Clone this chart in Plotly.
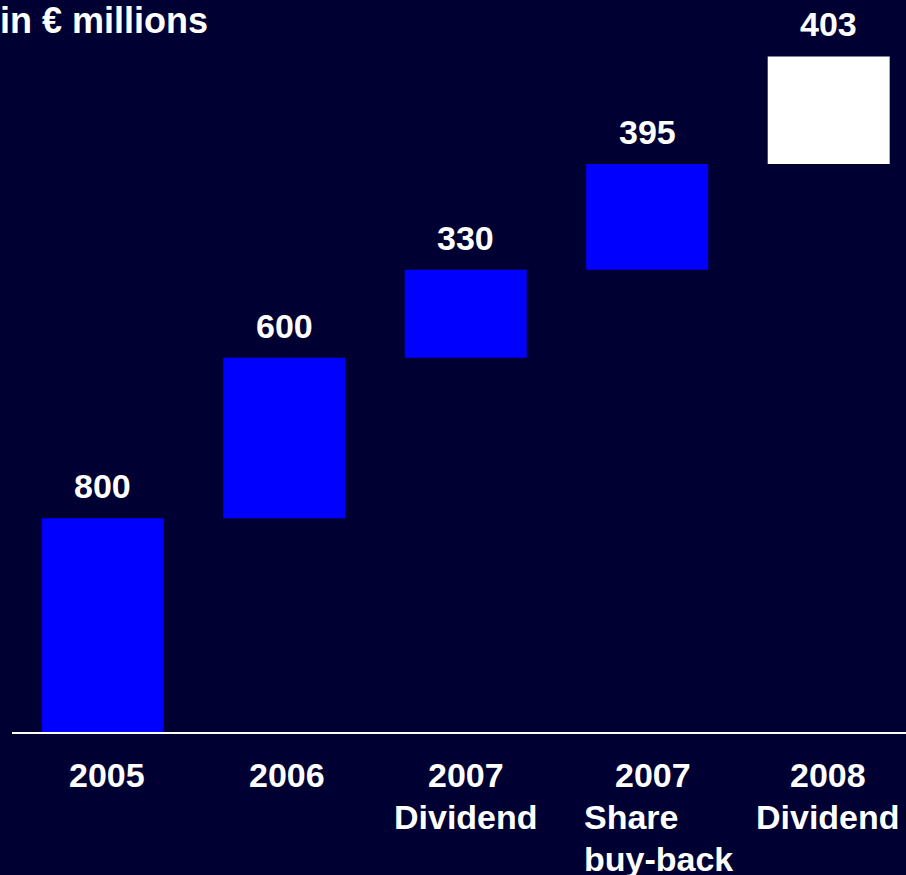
import plotly.graph_objects as go

categories = ["2005", "2006", "2007<br>Dividend", "2007<br>Share<br>buy-back", "2008<br>Dividend"]
values = [800, 600, 330, 395, 403]
value_labels = ["800", "600", "330", "395", "403"]
bar_colors = ["#0000FF", "#0000FF", "#0000FF", "#0000FF", "#FFFFFF"]

bases = []
run = 0
for v in values:
    bases.append(run)
    run += v
tops = [b + v for b, v in zip(bases, values)]

xs = list(range(len(categories)))
BG = "#000033"
FONT = "Liberation Sans, Arial, sans-serif"
FS = 34
LINE = 42

fig = go.Figure()
fig.add_trace(go.Bar(
    x=xs, y=values, base=bases, width=0.672,
    marker=dict(color=bar_colors, line=dict(width=0)),
    hoverinfo="skip",
))

annotations = []
for x, t, lab in zip(xs, tops, value_labels):
    annotations.append(dict(
        x=x, y=t, xref="x", yref="y", text="<b>%s</b>" % lab,
        showarrow=False, xanchor="center", yanchor="bottom", yshift=11,
        font=dict(family=FONT, size=FS, color="white"),
    ))

cat_shift = [4, 3, 0, 0, -1]
for x, c, s in zip(xs, categories, cat_shift):
    lines = c.split("<br>")
    for i, ln in enumerate(lines):
        if len(lines) == 3:
            # left-aligned block, first line indented
            ann = dict(x=x, xanchor="left", xshift=-65 + (31 if i == 0 else 0))
        else:
            ann = dict(x=x, xanchor="center", xshift=s)
        ann.update(
            y=0, xref="x", yref="paper", text="<b>%s</b>" % ln,
            showarrow=False, yanchor="top", yshift=-22 - LINE * i,
            font=dict(family=FONT, size=FS, color="white"),
        )
        annotations.append(ann)

annotations.append(dict(
    x=0, y=1, xref="paper", yref="paper", text="<b>in € millions</b>",
    showarrow=False, xanchor="left", yanchor="top", xshift=-14, yshift=2,
    font=dict(family=FONT, size=36, color="white"),
))

fig.update_layout(
    width=906, height=875,
    margin=dict(l=12, r=0, t=0, b=143, pad=0),
    paper_bgcolor=BG, plot_bgcolor=BG,
    showlegend=False,
    xaxis=dict(range=[-0.5, 4.426], showgrid=False, zeroline=False,
               showticklabels=False, ticks="", showline=True,
               linecolor="white", linewidth=2, fixedrange=True),
    yaxis=dict(range=[0, 2739], showgrid=False, zeroline=False,
               showticklabels=False, ticks="", showline=False, fixedrange=True),
    annotations=annotations,
)

fig.write_html("out.html")
